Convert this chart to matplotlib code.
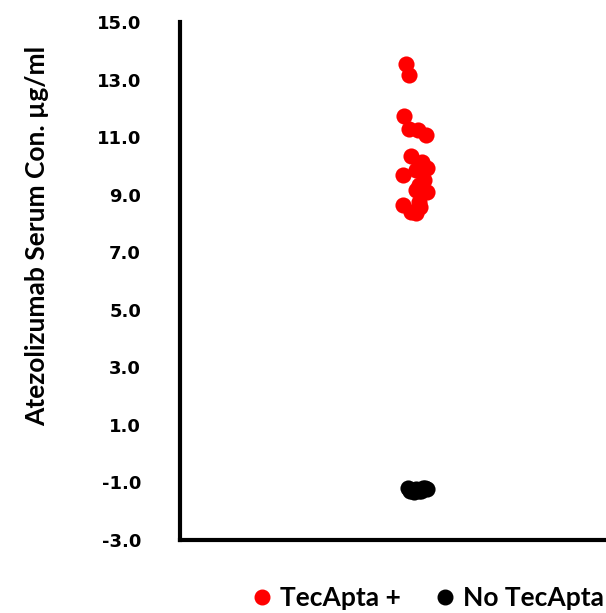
import matplotlib
matplotlib.use("Agg")
import matplotlib.pyplot as plt
from matplotlib.lines import Line2D

plt.rcParams['font.family'] = ['Lato', 'DejaVu Sans']
plt.rcParams['font.weight'] = 'bold'

# Data
tec_x = [0.530, 0.537, 0.525, 0.537, 0.558, 0.577, 0.542, 0.568, 0.580, 0.523,
         0.555, 0.573, 0.560, 0.580, 0.555, 0.523, 0.560, 0.563, 0.542, 0.553]
tec_y = [13.53, 13.15, 11.72, 11.27, 11.24, 11.06, 10.33, 10.13, 9.92, 9.67,
         9.85, 9.50, 9.33, 9.08, 9.15, 8.63, 8.74, 8.56, 8.39, 8.35]
no_x = [0.535, 0.545, 0.555, 0.565, 0.575, 0.540, 0.560, 0.570, 0.550, 0.580]
no_y = [-1.20, -1.25, -1.22, -1.28, -1.20, -1.30, -1.30, -1.18, -1.32, -1.24]

yticks = [-3, -1, 1, 3, 5, 7, 9, 11, 13, 15]
ylabel = "Atezolizumab Serum Con. \u00b5g/ml"
labels = ["TecApta +", "No TecApta"]

fig = plt.figure(figsize=(6.06, 6.13), dpi=100)
ax = fig.add_axes([180/606, (613-540)/613, 1 - 180/606, (540-22)/613])

ax.scatter(tec_x, tec_y, s=135, color='#ff0000', linewidths=0, zorder=3, clip_on=False)
ax.scatter(no_x, no_y, s=135, color='#000000', linewidths=0, zorder=3, clip_on=False)

ax.set_ylim(-3, 15)
ax.set_xlim(0, 1)
ax.set_yticks(yticks)
ax.set_yticklabels([f"{v:.1f}" for v in yticks], fontsize=13,
                   fontweight='bold', family=['DejaVu Sans'])
ax.set_xticks([])
ax.tick_params(axis='y', length=0, pad=28)
for s in ['top', 'right']:
    ax.spines[s].set_visible(False)
for s in ['left', 'bottom']:
    ax.spines[s].set_linewidth(3)
    ax.spines[s].set_color('black')
ax.spines['left'].set_capstyle('projecting')

ax.set_ylabel(ylabel, fontsize=19, fontweight='bold')
ax.yaxis.set_label_coords(-(180 - 37) / 426, (540 - 236) / 518)
ax.yaxis.label.set_verticalalignment('center')

handles = [Line2D([], [], marker='o', linestyle='none', color='#ff0000', markersize=10.5),
           Line2D([], [], marker='o', linestyle='none', color='#000000', markersize=10.5)]
fig.legend(handles, labels, loc='center left', bbox_to_anchor=(248.5/606, 1 - 598/613),
           ncol=2, frameon=False, handletextpad=0.2, columnspacing=1.15,
           prop={'size': 19, 'weight': 'bold'}, borderaxespad=0, borderpad=0,
           handlelength=1.0)

fig.savefig("out.png", dpi=100)
